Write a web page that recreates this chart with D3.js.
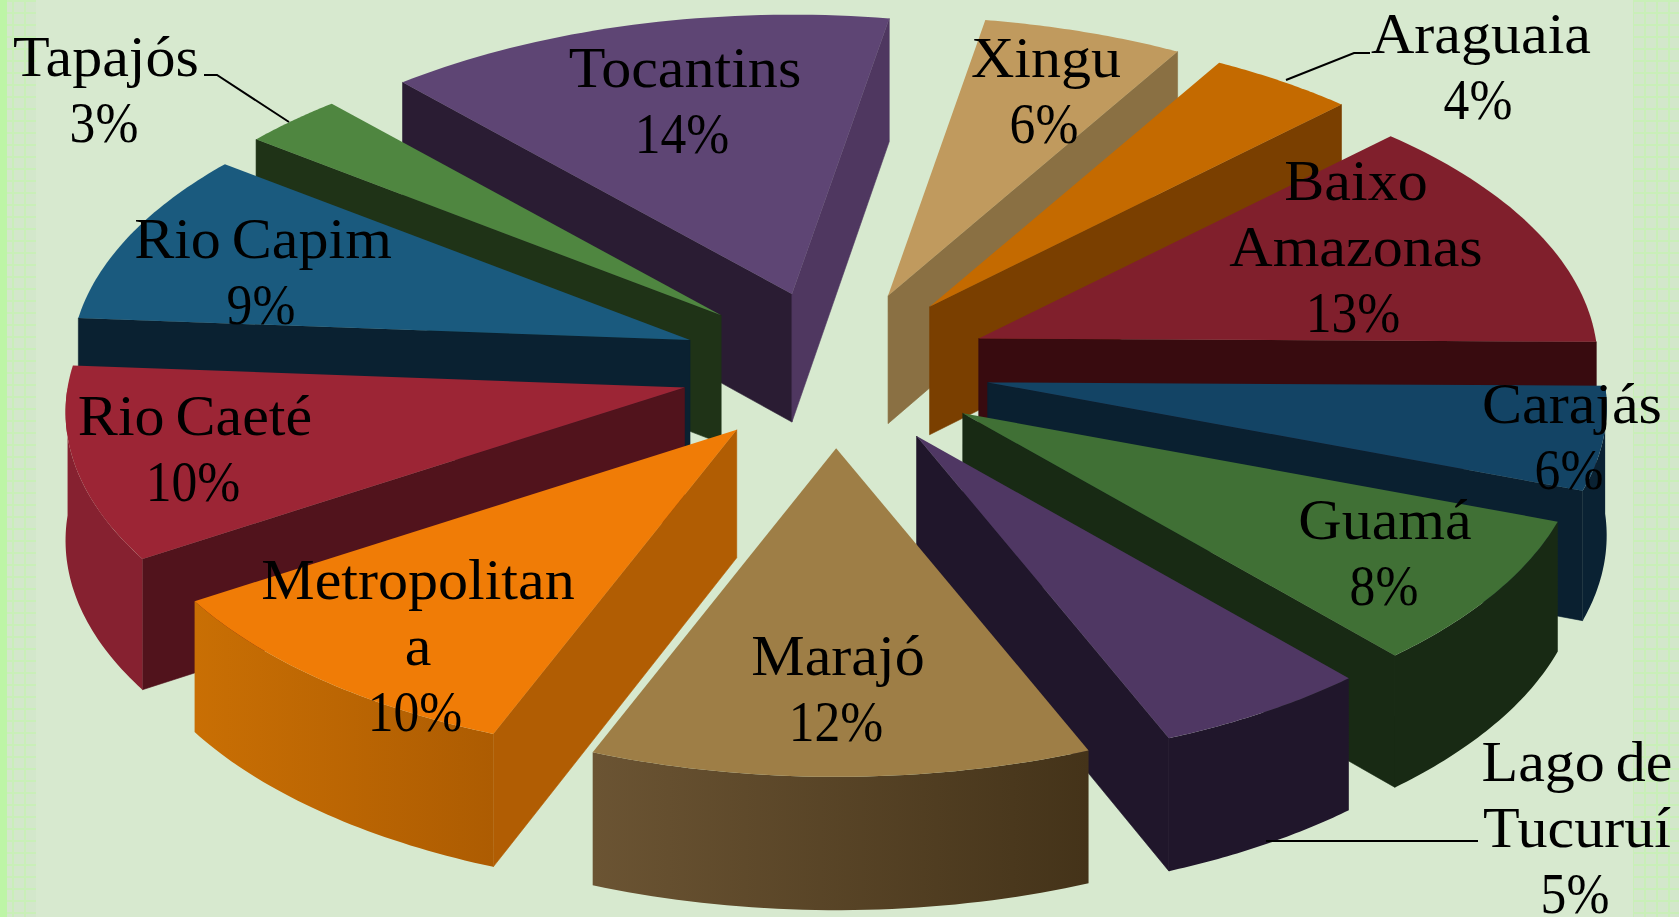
<!DOCTYPE html>
<html>
<head>
<meta charset="utf-8">
<script src="https://cdn.jsdelivr.net/npm/d3@7"></script>
<style>
    html, body { margin: 0; padding: 0; background: #d7e9cf; overflow: hidden; }
    svg { display: block; }
    .label { font-family: "Liberation Serif", serif; font-size: 58px; fill: #000; text-anchor: middle; word-spacing: -4px; }
    .leader { fill: none; stroke: #000; stroke-width: 2; }
</style>
</head>
<body>
<svg id="chart"></svg>
<script>
const regions = ['Tocantins', 'Xingu', 'Araguaia', 'Baixo Amazonas', 'Carajás', 'Guamá',
    'Lago de Tucuruí', 'Marajó', 'Metropolitana', 'Rio Caeté', 'Rio Capim', 'Tapajós']
// the labels show them rounded
const shares = [14.39, 5.65, 4.1, 12.7, 5.5, 7.9, 5.25, 12.12, 9.93, 10.3, 9.3, 2.86]

// how each label wraps in the picture
const labelLines = [['Tocantins'], ['Xingu'], ['Araguaia'], ['Baixo', 'Amazonas'], ['Carajás'], ['Guamá'],
    ['Lago de', 'Tucuruí'], ['Marajó'], ['Metropolitan', 'a'], ['Rio Caeté'], ['Rio Capim'], ['Tapajós']]

const topColors = ['#5e4574', '#c09a5e', '#c46a00', '#801f2c', '#134465', '#407035',
    '#4f3763', '#9e7e46', '#f07c06', '#9c2535', '#1a5a7e', '#4f8640']
const startCutColors = ['#2a1c33', '#8a7043', '#7a3f00', '#380b0f', '#0a2030', '#182a14',
    '#20162b', '#443319', '#b15d03', '#51131c', '#0a2131', '#1f3317']
const endCutColors = ['#4f3760', '#8a7043', '#7a3f00', '#380b0f', '#0a2030', '#182a14',
    '#20162b', '#443319', '#b15d03', '#51131c', '#0a2131', '#1f3317']
const wallLeftColors = ['#4f3760', '#8a7043', '#7a3f00', '#380b0f', '#0a2233', '#182a14',
    '#20162b', '#6b5433', '#c96f04', '#862130', '#0a2131', '#1f3317']
const wallRightColors = ['#4f3760', '#8a7043', '#7a3f00', '#380b0f', '#0a2233', '#182a14',
    '#20162b', '#443319', '#ad5c02', '#862130', '#0a2131', '#1f3317']

// label centre x and first baseline, then percent centre x
const labelX = [685, 1046, 1481, 1356, 1572, 1385, 1577, 838, 418, 195, 263, 106]
const labelY = [87, 77, 53, 200, 423, 539, 781, 675, 599, 435, 258, 76]
const percentX = [682, 1044, 1478, 1353, 1569, 1384, 1575, 836, 415, 193, 261, 104]

const leaders = [
    [[204, 75], [217, 75], [289, 122]],
    [[1370, 53], [1354, 53], [1286, 80]],
    [[1478, 841], [1266, 841]],
]

const WIDTH = 1679
const HEIGHT = 917
const CX = 835
const CY = 368
const RX = 617
const RY = 302
const PERSPECTIVE = 0.081
const EXPLODE_X = 0.25
const EXPLODE_Y = 0.26
const DEPTH = 128
const START_ANGLE = -42 * Math.PI / 180
const LINE_HEIGHT = 66
const NAME_STRETCH = 1.035
const PERCENT_STRETCH = 0.89

const svg = d3.select('#chart').attr('width', WIDTH).attr('height', HEIGHT)
    .attr('viewBox', [0, 0, WIDTH, HEIGHT].join(' '))

const defs = svg.append('defs')

// the faint checked strips at the left and right edges
function edgePattern(id, colour) {
    const p = defs.append('pattern').attr('id', id).attr('patternUnits', 'userSpaceOnUse')
        .attr('width', 12).attr('height', 12)
    p.append('rect').attr('width', 12).attr('height', 12).attr('fill', '#d3e7cb')
    p.append('rect').attr('width', 2).attr('height', 12).attr('fill', colour)
    p.append('rect').attr('width', 12).attr('height', 2).attr('fill', colour)
}
edgePattern('edgeGrid', '#c9efb8')
svg.append('rect').attr('width', WIDTH).attr('height', HEIGHT).attr('fill', '#d7e9cf')
svg.append('rect').attr('width', 36).attr('height', HEIGHT).attr('fill', 'url(#edgeGrid)')
svg.append('rect').attr('width', 7).attr('height', HEIGHT).attr('fill', '#bdf5a6')
svg.append('rect').attr('x', 1633).attr('width', WIDTH - 1633).attr('height', HEIGHT).attr('fill', 'url(#edgeGrid)')

// screen position of the rim at angle a, 0 at the back, clockwise, relative to the slice tip
function rim(a) {
    const u = Math.sin(a)
    const v = -Math.cos(a)
    const d = 1 - PERSPECTIVE * v
    return { x: RX * u / d, y: RY * v / d, v }
}

function tip(mid) {
    const r = rim(mid)
    const d = 1 - PERSPECTIVE * EXPLODE_Y * r.v
    return {
        x: CX + EXPLODE_X * 621 * Math.sin(mid),
        y: CY + EXPLODE_Y * RY * (-Math.cos(mid)) / d,
    }
}

const depthAt = v => DEPTH / (1 - 0.04 * v)
const line = d3.line().x(d => d.x).y(d => d.y)

const arcs = d3.pie().sort(null).value(d => d)
    .startAngle(START_ANGLE)
    .endAngle(START_ANGLE + 2 * Math.PI)(shares)

const slices = arcs.map((d, i) => {
    const mid = (d.startAngle + d.endAngle) / 2
    return { i, a0: d.startAngle, a1: d.endAngle, mid, t: tip(mid) }
})

function arcPoints(s, a0, a1, bottom) {
    return d3.range(0, 41).map(k => {
        const a = a0 + (a1 - a0) * k / 40
        const r = rim(a)
        return { x: s.t.x + r.x, y: s.t.y + r.y + (bottom ? depthAt(r.v) : 0) }
    })
}

function cutFace(s, a) {
    const r = rim(a)
    return [
        { x: s.t.x, y: s.t.y },
        { x: s.t.x + r.x, y: s.t.y + r.y },
        { x: s.t.x + r.x, y: s.t.y + r.y + depthAt(r.v) },
        { x: s.t.x, y: s.t.y + DEPTH },
    ]
}

// back slices first so nearer ones paint over them
const order = slices.slice().sort((p, q) => Math.cos(q.mid) - Math.cos(p.mid))

const groups = svg.append('g').selectAll('g').data(order).join('g')

groups.each(function (s) {
    const g = d3.select(this)
    const i = s.i

    if (rim(s.a0).x < 0) {
        g.append('path').attr('d', line(cutFace(s, s.a0)) + 'Z')
            .attr('fill', startCutColors[i]).attr('stroke', startCutColors[i]).attr('stroke-width', 0.6)
    }
    if (rim(s.a1).x > 0) {
        g.append('path').attr('d', line(cutFace(s, s.a1)) + 'Z')
            .attr('fill', endCutColors[i]).attr('stroke', endCutColors[i]).attr('stroke-width', 0.6)
    }

    // outer wall, only on the part of the rim that faces the viewer
    const w0 = Math.max(s.a0, Math.PI / 2)
    const w1 = Math.min(s.a1, 3 * Math.PI / 2)
    if (w1 > w0) {
        const upper = arcPoints(s, w0, w1, false)
        const lower = arcPoints(s, w0, w1, true).reverse()
        const xs = d3.extent(upper, d => d.x)
        const gradId = `wall${i}`
        const grad = defs.append('linearGradient').attr('id', gradId)
            .attr('gradientUnits', 'userSpaceOnUse')
            .attr('x1', xs[0]).attr('x2', xs[1]).attr('y1', 0).attr('y2', 0)
        grad.append('stop').attr('offset', 0).attr('stop-color', wallLeftColors[i])
        grad.append('stop').attr('offset', 1).attr('stop-color', wallRightColors[i])
        g.append('path').attr('d', line(upper.concat(lower)) + 'Z').attr('fill', `url(#${gradId})`)
    }

    const top = [{ x: s.t.x, y: s.t.y }].concat(arcPoints(s, s.a0, s.a1, false))
    g.append('path').attr('d', line(top) + 'Z').attr('fill', topColors[i])
})

svg.append('g').selectAll('path').data(leaders).join('path')
    .attr('class', 'leader')
    .attr('d', d3.line())

// the original face is wider in the words and narrower in the digits
function fitWidth(text, stretch) {
    const length = text.node().getComputedTextLength()
    text.attr('textLength', length * stretch).attr('lengthAdjust', 'spacingAndGlyphs')
}

const labels = svg.append('g').selectAll('g').data(regions).join('g')

labels.each(function (name, i) {
    const g = d3.select(this)
    labelLines[i].forEach((text, k) => {
        g.append('text').attr('class', 'label')
            .attr('x', labelX[i]).attr('y', labelY[i] + k * LINE_HEIGHT)
            .text(text)
            .call(fitWidth, NAME_STRETCH)
    })
    g.append('text').attr('class', 'label')
        .attr('x', percentX[i]).attr('y', labelY[i] + labelLines[i].length * LINE_HEIGHT)
        .text(`${Math.round(shares[i])}%`)
        .call(fitWidth, PERCENT_STRETCH)
})
</script>
</body>
</html>
